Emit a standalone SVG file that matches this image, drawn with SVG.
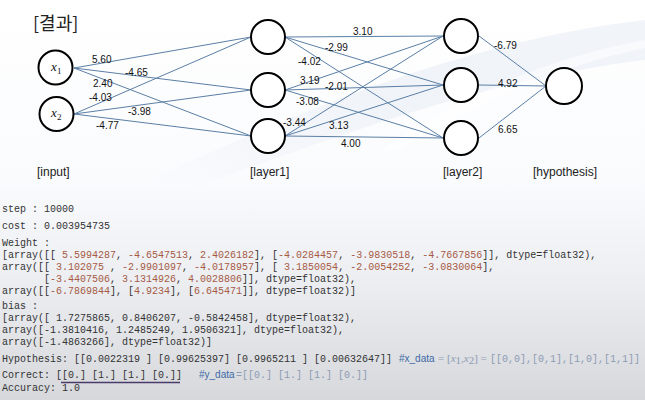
<svg xmlns="http://www.w3.org/2000/svg" width="645" height="400" viewBox="0 0 645 400">
<defs>
<linearGradient id="bg" x1="0" y1="0" x2="0" y2="1">
<stop offset="0" stop-color="#ffffff"/>
<stop offset="0.45" stop-color="#fafbfd"/>
<stop offset="0.7" stop-color="#eceef2"/>
<stop offset="1" stop-color="#d6d8dc"/>
</linearGradient>
<linearGradient id="sw" x1="0" y1="1" x2="1" y2="0">
<stop offset="0" stop-color="#e3e9f3" stop-opacity="0"/>
<stop offset="0.5" stop-color="#e8edf5" stop-opacity="0.6"/>
<stop offset="1" stop-color="#eef2f8" stop-opacity="0.8"/>
</linearGradient>
<style>
.node{fill:#ffffff;stroke:#000000;stroke-width:2}
.edge{stroke:#5b7fa6;stroke-width:1;fill:none}
.w{font-family:"Liberation Sans","Noto Sans",sans-serif;font-size:10px;fill:#111}
.lab{font-family:"Liberation Sans","Noto Sans",sans-serif;font-size:12px;fill:#222}
.code{font-family:"Liberation Mono","DejaVu Sans Mono",monospace;font-size:10px;fill:#333;white-space:pre}
.num{fill:#a65a44}
.cm{font-family:"Liberation Sans","Noto Sans",sans-serif;fill:#3d6aa5}
.cg{fill:#8d9bb3}
.cs{font-family:"Liberation Serif",serif;font-size:11px;fill:#8d9bb3}
.xv{font-family:"Liberation Serif",serif;font-style:italic;font-size:13px;fill:#111}
.sub{font-family:"Liberation Serif",serif;font-size:9px;fill:#111}
</style>
</defs>
<rect x="0" y="0" width="645" height="400" fill="url(#bg)"/>
<path d="M150,180 C300,110 470,40 645,20 L645,60 C480,80 330,140 200,185 Z" fill="url(#sw)"/>
<path d="M380,150 C470,90 560,55 645,40 L645,48 C560,66 480,100 400,150 Z" fill="#ffffff" opacity="0.5"/>

<text x="33" y="30" font-family="'Noto Sans CJK KR','Noto Sans',sans-serif" font-size="18" fill="#222">[결과]</text>

<g id="connectors">
<line class="edge" x1="74" y1="68" x2="251" y2="37"/>
<line class="edge" x1="74" y1="68" x2="251" y2="90"/>
<line class="edge" x1="74" y1="68" x2="251" y2="136"/>
<line class="edge" x1="74" y1="114" x2="251" y2="37"/>
<line class="edge" x1="74" y1="114" x2="251" y2="90"/>
<line class="edge" x1="74" y1="114" x2="251" y2="136"/>
<line class="edge" x1="285" y1="37" x2="443" y2="36"/>
<line class="edge" x1="285" y1="37" x2="443" y2="85"/>
<line class="edge" x1="285" y1="37" x2="443" y2="138"/>
<line class="edge" x1="285" y1="90" x2="443" y2="36"/>
<line class="edge" x1="285" y1="90" x2="443" y2="85"/>
<line class="edge" x1="285" y1="90" x2="443" y2="138"/>
<line class="edge" x1="285" y1="136" x2="443" y2="36"/>
<line class="edge" x1="285" y1="136" x2="443" y2="85"/>
<line class="edge" x1="285" y1="136" x2="443" y2="138"/>
<line class="edge" x1="479" y1="36" x2="546" y2="86"/>
<line class="edge" x1="479" y1="85" x2="546" y2="86"/>
<line class="edge" x1="479" y1="138" x2="546" y2="86"/>
<text class="w" x="92" y="63">5.60</text>
<text class="w" x="125" y="76">-4.65</text>
<text class="w" x="93" y="87">2.40</text>
<text class="w" x="89" y="101">-4.03</text>
<text class="w" x="128" y="115">-3.98</text>
<text class="w" x="96" y="129">-4.77</text>
<text class="w" x="298" y="65">-4.02</text>
<text class="w" x="300" y="84">3.19</text>
<text class="w" x="296" y="105">-3.08</text>
<text class="w" x="283" y="126">-3.44</text>
<text class="w" x="353" y="35">3.10</text>
<text class="w" x="325" y="51">-2.99</text>
<text class="w" x="325" y="90">-2.01</text>
<text class="w" x="329" y="129">3.13</text>
<text class="w" x="341" y="147">4.00</text>
<text class="w" x="494" y="49">-6.79</text>
<text class="w" x="498" y="87">4.92</text>
<text class="w" x="498" y="133">6.65</text>
</g>

<g id="x1"><circle class="node" cx="55.5" cy="67.5" r="17"/><text class="xv" x="51" y="71">x</text><text class="sub" x="57" y="74">1</text></g>
<g id="x2"><circle class="node" cx="56.5" cy="114" r="17"/><text class="xv" x="51" y="117">x</text><text class="sub" x="57" y="120">2</text></g>
<g id="l1a"><circle class="node" cx="268" cy="37" r="17"/></g>
<g id="l1b"><circle class="node" cx="268" cy="90" r="17"/></g>
<g id="l1c"><circle class="node" cx="268" cy="136" r="17"/></g>
<g id="l2a"><circle class="node" cx="461" cy="36" r="17"/></g>
<g id="l2b"><circle class="node" cx="461" cy="85" r="17"/></g>
<g id="l2c"><circle class="node" cx="461" cy="138" r="17"/></g>
<g id="hyp"><circle class="node" cx="564" cy="86" r="18"/></g>

<text class="lab" x="37" y="176">[input]</text>
<text class="lab" x="250" y="176">[layer1]</text>
<text class="lab" x="443" y="176">[layer2]</text>
<text class="lab" x="533" y="176">[hypothesis]</text>

<g id="output">
<text class="code" x="2" y="212">step : 10000</text>
<text class="code" x="2" y="229">cost : 0.003954735</text>
<text class="code" x="2" y="246">Weight :</text>
<text class="code" x="2" y="258">[array([[ <tspan class="num">5.5994287</tspan>, <tspan class="num">-4.6547513</tspan>, <tspan class="num">2.4026182</tspan>], [<tspan class="num">-4.0284457</tspan>, <tspan class="num">-3.9830518</tspan>, <tspan class="num">-4.7667856</tspan>]], dtype=float32),</text>
<text class="code" x="2" y="270">array([[ <tspan class="num">3.102075</tspan> , <tspan class="num">-2.9901097</tspan>, <tspan class="num">-4.0178957</tspan>], [ <tspan class="num">3.1850054</tspan>, <tspan class="num">-2.0054252</tspan>, <tspan class="num">-3.0830064</tspan>],</text>
<text class="code" x="2" y="282">       [<tspan class="num">-3.4407506</tspan>, <tspan class="num">3.1314926</tspan>, <tspan class="num">4.0028806</tspan>]], dtype=float32),</text>
<text class="code" x="2" y="294">array([[<tspan class="num">-6.7869844</tspan>], [<tspan class="num">4.9234</tspan>], [<tspan class="num">6.645471</tspan>]], dtype=float32)]</text>
<text class="code" x="2" y="309">bias :</text>
<text class="code" x="2" y="321">[array([ 1.7275865, 0.8406207, -0.5842458], dtype=float32),</text>
<text class="code" x="2" y="333">array([-1.3810416, 1.2485249, 1.9506321], dtype=float32),</text>
<text class="code" x="2" y="345">array([-1.4863266], dtype=float32)]</text>
<text class="code" x="2" y="362">Hypothesis: [[0.0022319 ] [0.99625397] [0.9965211 ] [0.00632647]]</text>
<text class="code" x="399" y="362"><tspan class="cm">#x_data</tspan><tspan class="cs" x="438">= [</tspan><tspan class="cs" font-style="italic">x</tspan><tspan class="cs" font-size="7" dy="2">1</tspan><tspan class="cs" dy="-2">,</tspan><tspan class="cs" font-style="italic">x</tspan><tspan class="cs" font-size="7" dy="2">2</tspan><tspan class="cs" dy="-2">] =</tspan><tspan class="cg" x="490">[[0,0],[0,1],[1,0],[1,1]]</tspan></text>
<text class="code" x="2" y="378">Correct: [[0.] [1.] [1.] [0.]]</text>
<line x1="61" y1="382.5" x2="180" y2="382.5" stroke="#4b3b6b" stroke-width="1.5"/>
<text class="code" x="199" y="378"><tspan class="cm">#y_data</tspan><tspan class="cg" x="236">=[[0.] [1.] [1.] [0.]]</tspan></text>
<text class="code" x="2" y="391">Accuracy: 1.0</text>
</g>
</svg>
